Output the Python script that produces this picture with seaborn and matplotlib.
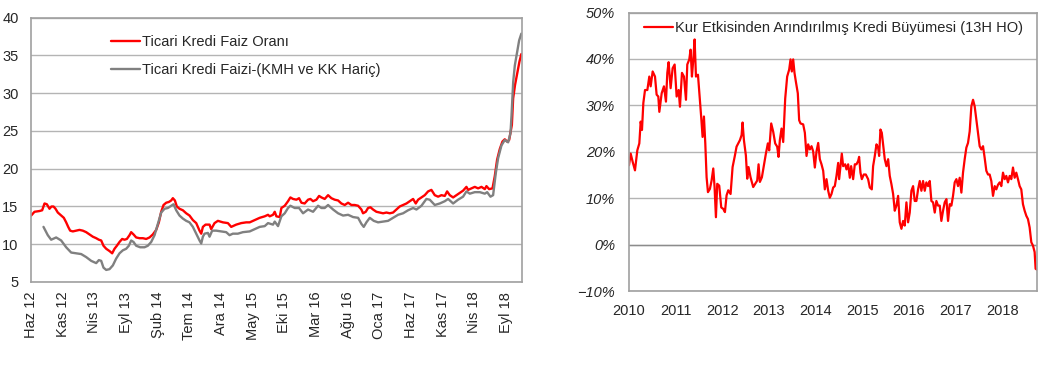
import matplotlib
matplotlib.use("Agg")
import matplotlib.pyplot as plt
import matplotlib.ticker as mticker
import numpy as np
import pandas as pd
import seaborn as sns

# --- left panel: commercial loan rates (x = months since Haz 12) ---
red_month = [0.02, 0.55, 1.34, 1.76, 2.13, 2.5, 2.92, 3.23, 3.55, 3.87, 4.23, 4.76, 5.18, 5.55, 5.87,
             6.18, 6.6, 7.13, 7.65, 8.18, 8.71, 9.23, 9.76, 10.29, 10.71, 11.08, 11.44, 11.87, 12.39,
             12.81, 13.18, 13.55, 13.97, 14.39, 14.76, 15.13, 15.55, 15.81, 16.18, 16.6, 17.13, 17.66,
             18.18, 18.71, 19.23, 19.76, 20.18, 20.55, 20.92, 21.34, 21.76, 22.13, 22.39, 22.71, 23.02,
             23.44, 23.97, 24.5, 25.02, 25.55, 26.08, 26.6, 26.87, 27.13, 27.55, 28.18, 28.44, 28.97,
             29.5, 30.29, 31.08, 31.6, 32.39, 33.18, 33.97, 34.52, 35.31, 36.1, 36.89, 37.41, 37.68,
             38.2, 38.47, 38.73, 39.26, 39.52, 40.05, 40.57, 40.94, 41.36, 41.89, 42.31, 42.68, 43.2,
             43.73, 44.1, 44.52, 45.05, 45.47, 45.84, 46.36, 46.89, 47.41, 47.94, 48.47, 48.99, 49.52,
             50.05, 50.57, 51.1, 51.63, 52.15, 52.41, 52.84, 53.2, 53.57, 53.99, 54.52, 55.05, 55.57,
             56.1, 56.63, 57.15, 57.68, 58.2, 58.73, 59.26, 59.78, 60.31, 60.73, 61.1, 61.63, 62.15,
             62.68, 63.2, 63.73, 64.26, 64.78, 65.31, 65.68, 66.1, 66.63, 67.15, 67.68, 68.2, 68.73,
             68.99, 69.52, 70.05, 70.57, 71.1, 71.63, 71.89, 72.31, 72.84, 73.2, 73.57, 73.99, 74.41,
             74.78, 75.15, 75.47, 75.9, 76.1, 76.4, 76.7, 77.1, 77.4]
red_rate = [13.8, 14.3, 14.4, 14.5, 15.4, 15.3, 14.7, 15.0, 15.0, 14.7, 14.2, 13.8, 13.5, 12.9, 12.3,
            11.8, 11.7, 11.8, 11.9, 11.8, 11.6, 11.3, 11.0, 10.8, 10.6, 10.5, 9.8, 9.4, 9.1,
            8.8, 9.4, 9.8, 10.3, 10.7, 10.6, 10.7, 11.2, 11.6, 11.3, 10.9, 10.8, 10.8,
            10.7, 10.9, 11.3, 11.9, 12.9, 14.3, 15.2, 15.5, 15.6, 15.8, 16.1, 15.8, 15.0,
            14.7, 14.5, 14.1, 13.8, 13.2, 12.8, 11.8, 11.4, 12.3, 12.6, 12.6, 12.0, 12.8,
            13.1, 12.9, 12.8, 12.3, 12.6, 12.8, 12.9, 12.9, 13.2, 13.5, 13.7, 13.9, 13.7,
            13.9, 14.3, 13.7, 13.6, 14.8, 15.1, 15.7, 16.2, 16.0, 15.9, 16.1, 15.5, 15.4,
            15.9, 16.0, 15.7, 15.9, 16.4, 16.2, 16.0, 16.5, 16.1, 15.9, 15.8, 15.4, 15.2,
            15.5, 15.2, 15.2, 15.1, 14.6, 14.1, 14.3, 14.8, 14.9, 14.6, 14.3, 14.2, 14.1,
            14.2, 14.1, 14.2, 14.6, 15.0, 15.2, 15.4, 15.7, 16.0, 15.4, 15.9, 16.2, 16.5,
            17.0, 17.2, 16.5, 16.3, 16.5, 16.4, 17.0, 16.5, 16.2, 16.5, 16.8, 17.1, 17.6,
            17.2, 17.4, 17.6, 17.4, 17.6, 17.3, 17.7, 17.3, 17.4, 19.0, 21.2, 22.6, 23.6,
            23.9, 23.6, 23.8, 25.8, 29.3, 31.1, 32.4, 34.2, 35.2]

gray_month = [1.97, 2.65, 3.18, 3.97, 4.76, 5.55, 6.34, 7.13, 7.92, 8.71, 9.5, 10.29, 10.71, 11.08,
              11.44, 11.87, 12.39, 12.92, 13.44, 13.97, 14.5, 15.02, 15.44, 15.81, 16.18, 16.6, 17.23,
              17.92, 18.44, 18.97, 19.5, 20.02, 20.55, 21.08, 21.6, 22.13, 22.5, 22.92, 23.44, 23.97,
              24.5, 25.02, 25.55, 26.08, 26.6, 26.87, 27.13, 27.39, 27.92, 28.18, 28.6, 29.23, 30.02,
              30.81, 31.34, 31.86, 32.65, 33.44, 34.52, 35.31, 36.1, 36.89, 37.41, 38.2, 38.47, 38.99,
              39.52, 40.05, 40.57, 40.94, 41.63, 42.31, 42.94, 43.73, 44.52, 45.31, 45.84, 46.36, 46.89,
              47.68, 48.47, 49.26, 50.05, 50.84, 51.63, 52.15, 52.52, 52.94, 53.47, 54.1, 54.78, 55.57,
              56.36, 57.15, 57.94, 58.73, 59.52, 60.31, 60.84, 61.63, 62.41, 62.94, 63.73, 64.52, 65.31,
              65.84, 66.63, 67.41, 68.2, 68.73, 69.26, 70.05, 70.84, 71.63, 72.0, 72.52, 72.94, 73.36,
              73.73, 74.26, 74.78, 75.31, 75.68, 75.85, 76.11, 76.37, 76.74, 77.05, 77.4]
gray_rate = [12.3, 11.2, 10.6, 10.9, 10.5, 9.6, 8.9, 8.8, 8.7, 8.3, 7.8, 7.5, 7.9, 7.8,
             6.9, 6.6, 6.7, 7.2, 8.1, 8.8, 9.2, 9.4, 9.8, 10.5, 10.3, 9.8, 9.6,
             9.6, 9.8, 10.3, 11.2, 12.7, 14.2, 14.7, 14.8, 15.1, 15.3, 14.5, 13.8, 13.4,
             13.1, 12.9, 12.3, 11.4, 10.5, 10.1, 11.0, 11.4, 11.5, 11.0, 11.8, 11.8, 11.7,
             11.6, 11.2, 11.4, 11.4, 11.6, 11.7, 12.0, 12.3, 12.4, 12.8, 12.6, 13.0, 12.4,
             13.7, 14.1, 14.8, 15.1, 14.8, 14.8, 14.1, 14.6, 14.3, 15.1, 14.8, 14.8, 15.2,
             14.6, 14.1, 13.8, 13.9, 13.6, 13.5, 12.7, 12.3, 12.9, 13.5, 13.1, 12.9, 13.0,
             13.1, 13.5, 13.9, 14.1, 14.5, 14.8, 14.6, 15.1, 16.0, 15.9, 15.2, 15.4, 15.7,
             16.0, 15.4, 15.9, 16.3, 17.0, 16.7, 16.9, 16.9, 16.7, 16.9, 16.3, 16.5, 19.4,
             21.4, 23.1, 23.8, 23.5, 24.7, 27.1, 31.5, 33.7, 35.5, 37.0, 37.9]

left_tick_labels = ["Haz 12", "Kas 12", "Nis 13", "Eyl 13", "Şub 14", "Tem 14", "Ara 14", "May 15",
                    "Eki 15", "Mar 16", "Ağu 16", "Oca 17", "Haz 17", "Kas 17", "Nis 18", "Eyl 18"]

# --- right panel: FX-adjusted loan growth (13-week annualised), x = decimal year ---
growth_year = [2010.0, 2010.036, 2010.079, 2010.128, 2010.178, 2010.221, 2010.25, 2010.278, 2010.307,
               2010.343, 2010.393, 2010.435, 2010.464, 2010.507, 2010.557, 2010.592, 2010.628, 2010.65,
               2010.7, 2010.749, 2010.792, 2010.821, 2010.849, 2010.892, 2010.935, 2010.978, 2011.021,
               2011.064, 2011.092, 2011.135, 2011.178, 2011.221, 2011.249, 2011.292, 2011.32, 2011.349,
               2011.378, 2011.406, 2011.435, 2011.478, 2011.52, 2011.549, 2011.577, 2011.606, 2011.635,
               2011.663, 2011.692, 2011.734, 2011.77, 2011.806, 2011.834, 2011.863, 2011.891, 2011.934,
               2011.977, 2012.02, 2012.056, 2012.091, 2012.127, 2012.177, 2012.22, 2012.27, 2012.305,
               2012.377, 2012.413, 2012.434, 2012.463, 2012.505, 2012.534, 2012.562, 2012.605, 2012.662,
               2012.705, 2012.748, 2012.777, 2012.805, 2012.848, 2012.891, 2012.934, 2012.976, 2013.005,
               2013.048, 2013.091, 2013.133, 2013.176, 2013.205, 2013.233, 2013.269, 2013.305, 2013.348,
               2013.39, 2013.433, 2013.462, 2013.49, 2013.519, 2013.547, 2013.575, 2013.618, 2013.647,
               2013.676, 2013.733, 2013.769, 2013.805, 2013.84, 2013.876, 2013.912, 2013.947, 2013.983,
               2014.019, 2014.055, 2014.09, 2014.126, 2014.162, 2014.197, 2014.233, 2014.269, 2014.304,
               2014.34, 2014.376, 2014.411, 2014.447, 2014.483, 2014.504, 2014.533, 2014.561, 2014.59,
               2014.633, 2014.661, 2014.697, 2014.733, 2014.761, 2014.804, 2014.84, 2014.875, 2014.911,
               2014.932, 2014.961, 2014.99, 2015.032, 2015.075, 2015.125, 2015.161, 2015.204, 2015.232,
               2015.268, 2015.304, 2015.339, 2015.361, 2015.389, 2015.418, 2015.446, 2015.482, 2015.518,
               2015.554, 2015.589, 2015.625, 2015.661, 2015.696, 2015.732, 2015.768, 2015.803, 2015.839,
               2015.875, 2015.91, 2015.946, 2015.982, 2016.017, 2016.053, 2016.089, 2016.124, 2016.16,
               2016.196, 2016.232, 2016.267, 2016.303, 2016.339, 2016.374, 2016.41, 2016.446, 2016.481,
               2016.517, 2016.553, 2016.588, 2016.624, 2016.66, 2016.695, 2016.731, 2016.767, 2016.803,
               2016.838, 2016.874, 2016.91, 2016.945, 2016.981, 2017.017, 2017.052, 2017.088, 2017.124,
               2017.159, 2017.195, 2017.231, 2017.266, 2017.302, 2017.338, 2017.374, 2017.409, 2017.445,
               2017.481, 2017.516, 2017.552, 2017.588, 2017.623, 2017.659, 2017.695, 2017.73, 2017.766,
               2017.802, 2017.838, 2017.873, 2017.909, 2017.945, 2017.98, 2018.016, 2018.052, 2018.087,
               2018.123, 2018.159, 2018.194, 2018.23, 2018.266, 2018.301, 2018.337, 2018.373, 2018.408,
               2018.444, 2018.48, 2018.516, 2018.551, 2018.587, 2018.623, 2018.658, 2018.694, 2018.715,
               2018.744]
growth_pct = [17.1, 19.6, 17.8, 16.0, 20.3, 21.8, 26.5, 24.7, 30.5,
              33.3, 33.3, 36.2, 34.1, 37.3, 36.2, 32.3, 31.9, 28.6,
              32.6, 34.1, 30.8, 37.0, 39.3, 33.7, 38.0, 38.8, 31.9,
              33.3, 29.7, 37.0, 36.2, 31.2, 38.8, 39.9, 42.0, 36.2,
              39.9, 44.2, 36.2, 36.6, 31.2, 27.2, 23.2, 27.6, 21.8,
              14.5, 11.3, 12.0, 13.8, 16.4, 12.4, 5.9, 13.1, 12.7,
              8.0, 7.7, 7.0, 10.6, 11.7, 10.9, 16.7, 19.2, 21.1,
              22.5, 23.6, 26.3, 22.5, 19.2, 14.2, 16.7, 14.5, 12.4,
              13.1, 13.8, 17.3, 13.5, 14.5, 17.1, 19.6, 21.8, 20.3,
              26.1, 24.3, 21.8, 21.1, 18.9, 22.5, 25.0, 22.1, 31.5,
              36.2, 37.7, 39.9, 37.3, 39.9, 37.0, 35.2, 32.6, 26.8,
              26.1, 25.9, 24.1, 19.1, 21.6, 20.5, 21.2, 20.1, 16.6,
              20.1, 21.9, 18.4, 17.3, 15.9, 11.9, 14.1, 11.6, 10.1,
              10.9, 12.3, 12.6, 14.8, 17.6, 14.1, 16.9, 19.6, 16.9,
              17.3, 16.2, 17.3, 14.4, 16.9, 14.1, 17.3, 17.3, 18.0,
              18.9, 15.5, 14.1, 15.1, 15.1, 14.1, 12.3, 11.9, 16.9,
              19.1, 21.6, 20.9, 19.1, 24.8, 24.1, 21.6, 18.4, 16.9,
              18.4, 14.8, 13.0, 10.9, 7.3, 8.4, 10.5, 4.8, 3.4,
              5.1, 4.1, 9.1, 4.8, 6.9, 11.6, 12.6, 9.4, 9.4,
              11.9, 13.7, 11.6, 13.7, 11.6, 13.4, 12.6, 13.7, 9.4,
              9.1, 6.9, 9.4, 8.4, 8.4, 5.1, 7.3, 9.1, 9.8,
              5.1, 8.7, 8.4, 10.5, 13.4, 14.1, 12.6, 14.4, 11.2,
              15.5, 18.4, 20.9, 21.9, 24.4, 29.8, 31.2, 29.8, 26.9,
              24.1, 21.2, 20.5, 21.2, 18.7, 15.9, 15.1, 15.1, 13.7,
              10.5, 12.6, 11.9, 12.9, 13.4, 12.6, 15.5, 14.1, 14.8,
              13.4, 14.8, 14.1, 16.6, 14.4, 15.5, 14.1, 12.6, 11.9,
              8.7, 7.3, 6.2, 5.5, 3.7, 0.5, -0.2, -1.6, -5.2,
              -5.4]
right_years = [2010, 2011, 2012, 2013, 2014, 2015, 2016, 2017, 2018]

sns.set_style("white")
plt.rcParams['font.family'] = ['Liberation Sans', 'DejaVu Sans']

RED = "#FF0000"
GRAY = "#808080"
GRID = "#B4B4B4"
SPINE = "#A0A0A0"
TXT = "#262626"

fig = plt.figure(figsize=(10.44, 3.65), dpi=100)
ax1 = fig.add_axes([0.0297, 0.2274, 0.4703, 0.724])
ax2 = fig.add_axes([0.6025, 0.2027, 0.3908, 0.763])

# left chart
sns.lineplot(x=red_month, y=red_rate, ax=ax1, color=RED, linewidth=1.7, label="Ticari Kredi Faiz Oranı")
sns.lineplot(x=gray_month, y=gray_rate, ax=ax1, color=GRAY, linewidth=1.7,
             label="Ticari Kredi Faizi-(KMH ve KK Hariç)")
ax1.set_xlim(0, 77.5)
ax1.set_ylim(5, 40)
ax1.set_yticks(np.arange(5, 41, 5))
ax1.set_xticks(np.arange(0, 76, 5))
ax1.set_xticklabels(left_tick_labels, rotation=90)
ax1.yaxis.grid(True, color=GRID, linewidth=1)
ax1.set_axisbelow(True)
ax1.tick_params(axis="both", length=0, labelsize=10.5, colors=TXT)
ax1.tick_params(axis="x", pad=7)
ax1.tick_params(axis="y", pad=9)
ax1.legend(loc="center left", bbox_to_anchor=(0.163, 0.855), frameon=False, fontsize=10.5,
           handlelength=2.0, handletextpad=0.15, labelspacing=1.0, borderpad=0, borderaxespad=0)

# right chart
sns.lineplot(x=growth_year, y=growth_pct, ax=ax2, color=RED, linewidth=1.6,
             label="Kur Etkisinden Arındırılmış Kredi Büyümesi (13H HO)")
ax2.set_xlim(2010, 2018.745)
ax2.set_ylim(-10, 50)
ax2.set_yticks(np.arange(-10, 51, 10))
ax2.set_xticks(right_years)
ax2.set_xticklabels([str(y) for y in right_years])
ax2.yaxis.set_major_formatter(mticker.PercentFormatter(decimals=0))
ax2.yaxis.grid(True, color=GRID, linewidth=1)
ax2.axhline(0, color="#8C8C8C", linewidth=1, zorder=1)
ax2.set_axisbelow(True)
ax2.tick_params(axis="both", length=0, labelsize=10.5, colors=TXT)
ax2.tick_params(axis="x", pad=9)
ax2.tick_params(axis="y", pad=10)
for lab in ax2.get_yticklabels():
    lab.set_style("italic")
ax2.legend(loc="center left", bbox_to_anchor=(0.037, 0.944), frameon=False, fontsize=10.5,
           handlelength=2.0, handletextpad=0.15, borderpad=0, borderaxespad=0)

for ax in (ax1, ax2):
    ax.set_xlabel("")
    ax.set_ylabel("")
    for s in ax.spines.values():
        s.set_color(SPINE)
        s.set_linewidth(1.2)

plt.savefig("out.png", dpi=100)
plt.close()
